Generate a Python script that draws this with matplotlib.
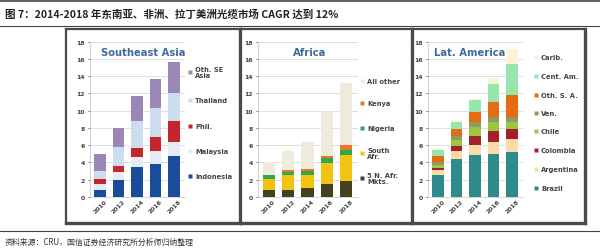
import matplotlib.pyplot as plt
import numpy as np

plt.rcParams['font.family'] = ['Noto Sans CJK SC', 'DejaVu Sans']

# data (stacked segments, bottom to top)
years = ['2010', '2012', '2014', '2016', '2018']

sea_names = ['Indonesia', 'Malaysia', 'Phil.', 'Thailand', 'Oth. SE\nAsia']
sea_values = [
    [0.85, 2.0, 3.5, 3.8, 4.7],
    [0.65, 0.9, 1.1, 1.5, 1.7],
    [0.6, 0.7, 1.1, 1.6, 2.4],
    [0.9, 2.2, 3.1, 3.4, 3.2],
    [2.0, 2.2, 2.9, 3.4, 3.7],
]
sea_colors = ['#1a4c9c', '#e6ebf2', '#c4262e', '#cddcef', '#9a87b8']

afr_names = ['5 N. Afr.\nMkts.', 'South\nAfr.', 'Nigeria', 'Kenya', 'All other']
afr_values = [
    [0.85, 0.85, 1.1, 1.55, 1.9],
    [1.2, 1.65, 1.4, 2.4, 3.0],
    [0.45, 0.45, 0.5, 0.55, 0.6],
    [0.1, 0.15, 0.2, 0.3, 0.55],
    [1.4, 2.2, 3.15, 5.2, 7.15],
]
afr_colors = ['#45401f', '#f2c40f', '#2ea84e', '#e8782a', '#eeebdc']

lat_names = ['Brazil', 'Argentina', 'Colombia', 'Chile', 'Ven.', 'Oth. S. A.',
             'Cent. Am.', 'Carib.']
lat_values = [
    [2.6, 4.35, 4.9, 5.0, 5.2],
    [0.5, 0.95, 1.15, 1.35, 1.55],
    [0.3, 0.6, 1.05, 1.35, 1.15],
    [0.35, 0.75, 1.0, 1.0, 0.8],
    [0.3, 0.4, 0.6, 0.55, 0.6],
    [0.7, 0.8, 1.15, 1.75, 2.55],
    [0.7, 0.9, 1.35, 2.1, 3.6],
    [0.1, 0.15, 0.2, 0.7, 1.75],
]
lat_colors = ['#2f8a8c', '#f8dca6', '#a3202c', '#9cc63c', '#8e9a64', '#e46c12',
              '#98e6ad', '#fbf4d6']

title = '图 7：2014-2018 年东南亚、非洲、拉丁美洲光缆市场 CAGR 达到 12%'
source = '资料来源：CRU，国信证券经济研究所分析师归纳整理'

W, H = 600, 251
fig = plt.figure(figsize=(W / 100, H / 100), dpi=100)


def fx(x):
    return x / W


def fy(y):
    return 1 - y / H


# title, rules and footer
fig.add_artist(plt.Line2D([0, 1], [fy(2), fy(2)], color='#444444', lw=1.2))
fig.add_artist(plt.Line2D([0, 1], [fy(27), fy(27)], color='#444444', lw=0.8))
fig.add_artist(plt.Line2D([0, 1], [fy(232), fy(232)], color='#444444', lw=0.8))
fig.text(fx(5), fy(15), title, fontsize=7.6, fontweight='bold', color='#222222',
         va='center', ha='left')
fig.text(fx(5), fy(242), source, fontsize=5.7, color='#333333',
         va='center', ha='left')

panels = [
    dict(box=(66, 240), ax=(90, 185), name='Southeast Asia', tx=0.56, ha='center',
         names=sea_names, values=sea_values, colors=sea_colors,
         leg_x=190, leg_y=[177, 152, 127, 101, 73]),
    dict(box=(241, 412), ax=(258, 358), name='Africa', tx=0.52, ha='center',
         names=afr_names, values=afr_values, colors=afr_colors,
         leg_x=362, leg_y=[179, 154, 129, 104, 82]),
    dict(box=(413, 585), ax=(428, 523), name='Lat. America', tx=0.06, ha='left',
         names=lat_names, values=lat_values, colors=lat_colors,
         leg_x=536, leg_y=[189, 170, 151, 132, 114, 96, 77, 58]),
]

top, bottom = 42.7, 198
for p in panels:
    # panel frame
    x0, x1 = p['box']
    bg = fig.add_axes([fx(x0), fy(224), fx(x1 - x0), (224 - 30) / H])
    bg.set_xticks([])
    bg.set_yticks([])
    for s in bg.spines.values():
        s.set_color('#4a4a4a')
        s.set_linewidth(1.6)
    bg.spines['right'].set_linewidth(2.4)
    bg.spines['bottom'].set_linewidth(2.4)

    # legend, clipped by the panel frame
    for name, col, ly in zip(p['names'], p['colors'], p['leg_y']):
        bg.plot([fx(p['leg_x'])], [fy(ly)], marker='s', ms=2.8, color=col,
                mec='none', transform=fig.transFigure, clip_on=True)
        bg.text(fx(p['leg_x'] + 5), fy(ly), name, fontsize=4.9, fontweight='bold',
                color='#444444', va='center', ha='left', linespacing=1.0,
                transform=fig.transFigure, clip_on=True, family='DejaVu Sans')

    # stacked bars
    a0, a1 = p['ax']
    ax = fig.add_axes([fx(a0), fy(bottom), fx(a1 - a0), (bottom - top) / H])
    pos = np.arange(len(years))
    base = np.zeros(len(years))
    for vals, col in zip(p['values'], p['colors']):
        ax.bar(pos, vals, 0.62, bottom=base, color=col, zorder=3)
        base += np.array(vals)
    ax.set_ylim(0, 18)
    ax.set_yticks(range(0, 19, 2))
    ax.set_xlim(-0.55, 4.6)
    ax.set_xticks(pos)
    ax.set_xticklabels(years, rotation=45, fontsize=4.4, fontweight='bold',
                       color='#444444', family='DejaVu Sans')
    ax.tick_params(axis='y', labelsize=4.4, colors='#444444', length=1.5, width=0.5,
                   pad=2)
    ax.tick_params(axis='x', length=0, pad=1)
    for lab in ax.get_yticklabels():
        lab.set_fontweight('bold')
        lab.set_family('DejaVu Sans')
    ax.grid(axis='y', color='#d9d9d9', lw=0.6, zorder=0)
    for s in ['top', 'right']:
        ax.spines[s].set_visible(False)
    ax.spines['left'].set_color('#c8c8c8')
    ax.spines['left'].set_linewidth(0.6)
    ax.spines['bottom'].set_color('#d0d0d0')
    ax.spines['bottom'].set_linewidth(0.6)
    ax.patch.set_alpha(0)
    ax.text(p['tx'], 0.935, p['name'], transform=ax.transAxes, fontsize=7.2,
            fontweight='bold', color='#3f6b9b', ha=p['ha'], va='center',
            family='DejaVu Sans', zorder=5,
            bbox=dict(facecolor='white', edgecolor='none', pad=0.6))

fig.savefig('out.png', dpi=100)
